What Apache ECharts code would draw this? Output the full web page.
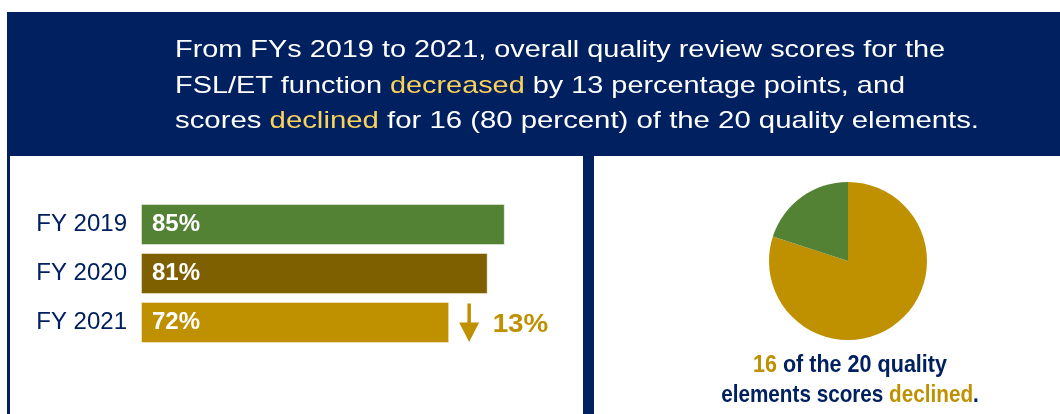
<!DOCTYPE html>
<html>
<head>
<meta charset="utf-8">
<script src="https://cdn.jsdelivr.net/npm/echarts@6/dist/echarts.min.js"></script>
<style>
html,body{margin:0;padding:0;background:#fff;}
#chart{width:1060px;height:414px;}
</style>
</head>
<body>
<div id="chart"></div>
<script>
// ---- data ----
const categories = ['FY 2019', 'FY 2020', 'FY 2021'];
const scores = [85, 81, 72];
const barColors = ['#548235', '#7F6000', '#BF9000'];
const pieNames = ['Scores declined', 'Scores did not decline'];
const pieValues = [16, 4];
const pieColors = ['#BF9000', '#548235'];
const headerLines = [
  'From FYs 2019 to 2021, overall quality review scores for the',
  'FSL/ET function {hl|decreased} by 13 percentage points, and',
  'scores {hl|declined} for 16 (80 percent) of the 20 quality elements.'
];
const captionLines = [
  '{g|16} of the 20 quality',
  'elements scores {g|declined}.'
];

// ---- style constants ----
const NAVY = '#002060';
const GOLD = '#BF9000';
const HL = '#F9D25A';
const FONT = 'Liberation Sans, Arial, sans-serif';

const mctx = document.createElement('canvas').getContext('2d');
function plain(t) { return t.replace(/\{\w+\|([^}]*)\}/g, '$1'); }
function fitScale(text, font, target) {
  mctx.font = font;
  const w = mctx.measureText(plain(text)).width;
  return w > 0 ? target / w : 1;
}

const chart = echarts.init(document.getElementById('chart'), null, { renderer: 'canvas' });

chart.setOption({
  animation: false,
  grid: { left: 141, top: 200, width: 428, height: 147, containLabel: false, outerBoundsMode: 'none' },
  xAxis: { type: 'value', min: 0, max: 100, show: false },
  yAxis: {
    type: 'category', data: categories, inverse: true,
    axisLine: { show: false }, axisTick: { show: false }, splitLine: { show: false },
    axisLabel: { color: NAVY, fontSize: 24, fontFamily: FONT, margin: 14 }
  },
  series: [
    {
      type: 'bar', z: 5,
      data: scores.map((v, i) => ({ value: v, itemStyle: { color: barColors[i] } })),
      barCategoryGap: '16.3%',
      itemStyle: { borderColor: 'rgba(255,255,255,0.45)', borderWidth: 1 },
      label: {
        show: true, position: 'insideLeft', distance: 11, formatter: '{c}%',
        color: '#fff', fontFamily: FONT, fontWeight: 'bold', fontSize: 24
      },
      emphasis: { disabled: true }
    },
    {
      type: 'pie', z: 5,
      center: [848, 261], radius: 79, startAngle: 90, clockwise: true,
      label: { show: false }, labelLine: { show: false },
      itemStyle: { borderWidth: 0 },
      emphasis: { disabled: true },
      data: pieValues.map((v, i) => ({ name: pieNames[i], value: v, itemStyle: { color: pieColors[i] } }))
    }
  ]
});

// annotation placed from the data
const last = scores.length - 1;
const endPt = chart.convertToPixel({ xAxisIndex: 0, yAxisIndex: 0 }, [scores[last], categories[last]]);
const drop = scores[0] - scores[last];
const ax = endPt[0] + 20, ay = endPt[1];

const graphics = [];
// frame
graphics.push({ type: 'rect', z: -10, shape: { x: 7, y: 12, width: 1053, height: 402 }, style: { fill: NAVY } });
graphics.push({ type: 'rect', z: -9, shape: { x: 10, y: 156, width: 573, height: 258 }, style: { fill: '#fff' } });
graphics.push({ type: 'rect', z: -9, shape: { x: 594, y: 156, width: 466, height: 258 }, style: { fill: '#fff' } });

// header
const hFont = '24px ' + FONT;
const hTargets = [770, 730, 804];
const hY = [50, 86.5, 121.5];
headerLines.forEach((t, i) => {
  graphics.push({
    type: 'text', z: 20, x: 175, y: hY[i], scaleX: fitScale(t, hFont, hTargets[i]),
    style: {
      text: t, font: hFont, fill: '#fff', align: 'left', textAlign: 'left',
      verticalAlign: 'middle', textVerticalAlign: 'middle',
      rich: { hl: { fill: HL, font: hFont } }
    }
  });
});

// arrow + drop label
graphics.push({
  type: 'group', z: 20, x: ax, y: ay,
  children: [
    { type: 'rect', z: 20, shape: { x: -1.75, y: -19, width: 3.5, height: 21 }, style: { fill: GOLD } },
    { type: 'polygon', z: 20, shape: { points: [[-10, 0], [10, 0], [0, 19.5]] }, style: { fill: GOLD } }
  ]
});
const dFont = 'bold 26px ' + FONT;
const dText = drop + '%';
graphics.push({
  type: 'text', z: 20, x: endPt[0] + 43.5, y: ay + 2.5, scaleX: fitScale(dText, dFont, 55.6),
  style: { text: dText, font: dFont, fill: GOLD, align: 'left', textAlign: 'left', verticalAlign: 'middle', textVerticalAlign: 'middle' }
});

// pie caption
const cFont = 'bold 24px ' + FONT;
const cTargets = [194, 257.6];
const cY = [365.5, 395.5];
captionLines.forEach((t, i) => {
  graphics.push({
    type: 'text', z: 20, x: 850, y: cY[i], scaleX: fitScale(t, cFont, cTargets[i]),
    style: {
      text: t, font: cFont, fill: NAVY, align: 'center', textAlign: 'center',
      verticalAlign: 'middle', textVerticalAlign: 'middle',
      rich: { g: { fill: GOLD, font: cFont } }
    }
  });
});

chart.setOption({ graphic: graphics });
</script>
</body>
</html>
